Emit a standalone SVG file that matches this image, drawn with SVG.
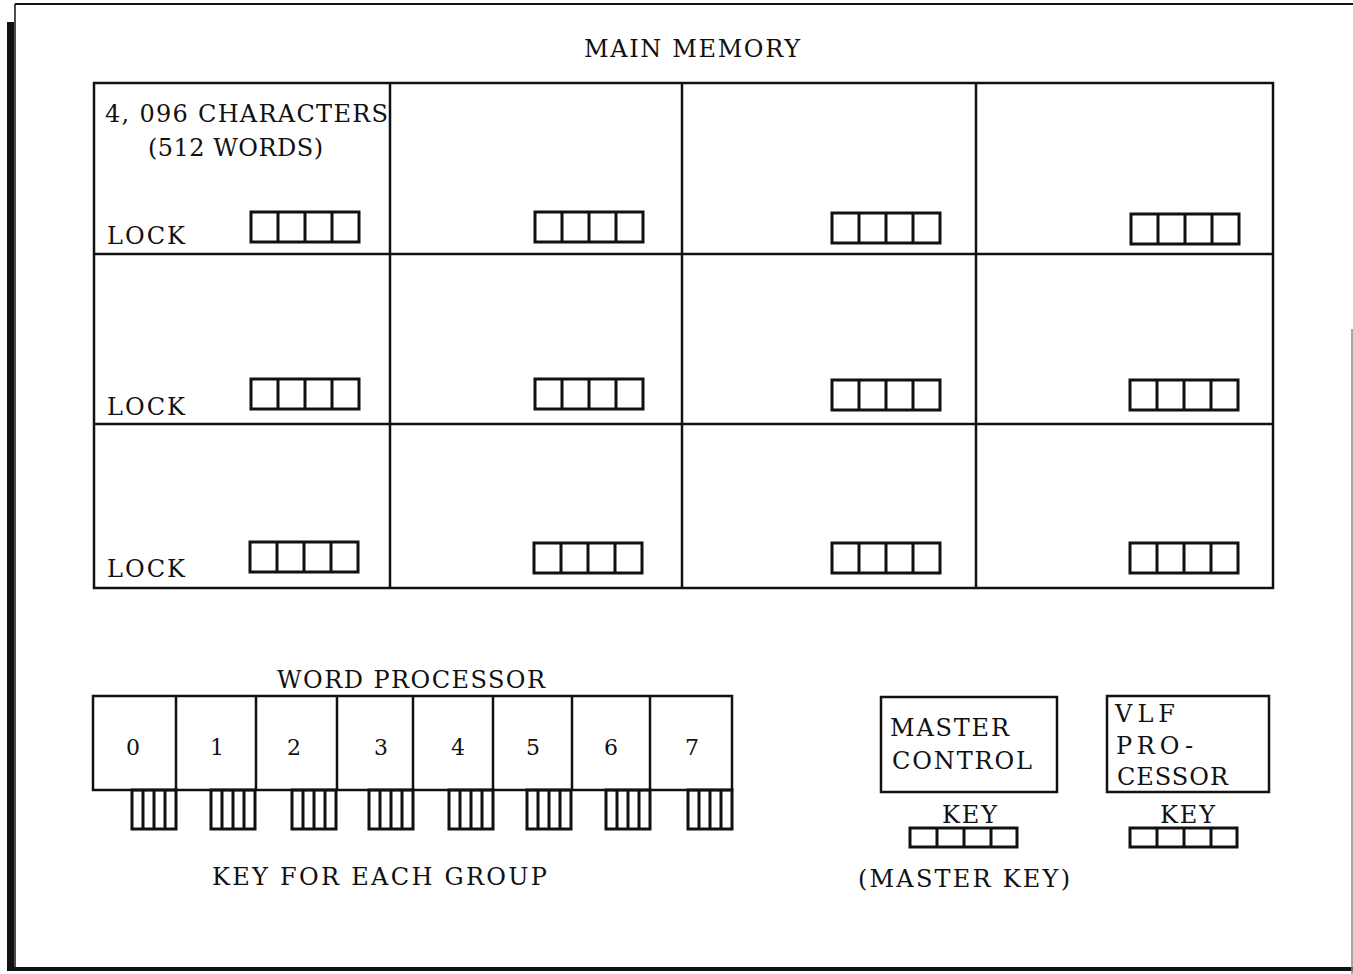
<svg xmlns="http://www.w3.org/2000/svg" xmlns:xlink="http://www.w3.org/1999/xlink" width="1353" height="974" viewBox="0 0 1353 974">
<style>
  text { font-family: "DejaVu Serif", "Liberation Serif", serif; font-size: 24px; fill: #111; }
  .num { font-size: 22px; }
  .ln { stroke: #111; stroke-width: 2.5; fill: none; }
  .lk { stroke: #111; stroke-width: 3; fill: none; }
</style>
<defs>
  <g id="lock">
    <rect class="lk" x="0" y="0" width="108" height="30"/>
    <path class="lk" d="M27 0V30M54 0V30M81 0V30"/>
  </g>
  <g id="key">
    <rect class="lk" x="0" y="0" width="44" height="39"/>
    <path class="lk" d="M11 0V39M22 0V39M33 0V39"/>
  </g>
  <g id="mkey">
    <rect class="lk" x="0" y="0" width="107" height="19"/>
    <path class="lk" d="M27 0V19M54 0V19M81 0V19"/>
  </g>
</defs>
<rect width="1353" height="974" fill="#fff"/>

<g id="frame">
  <line x1="15" y1="4" x2="1353" y2="4" stroke="#111" stroke-width="2"/>
  <line x1="15" y1="4" x2="15" y2="970" stroke="#111" stroke-width="1.5"/>
  <rect x="7" y="22" width="7" height="949" fill="#111"/>
  <rect x="7" y="967" width="1346" height="4" fill="#111"/>
  <line x1="1352" y1="329" x2="1352" y2="974" stroke="#888" stroke-width="1.5"/>
</g>

<g id="main-memory">
  <text x="584" y="57" textLength="216" lengthAdjust="spacing">MAIN MEMORY</text>
  <rect class="ln" x="94" y="83" width="1179" height="505"/>
  <path class="ln" d="M390 83V588M682 83V588M976 83V588M94 254H1273M94 424H1273"/>
</g>

<g id="cell-1-1">
  <text x="105" y="122" textLength="283" lengthAdjust="spacing">4, 096 CHARACTERS</text>
  <text x="148" y="156" textLength="175" lengthAdjust="spacing">(512 WORDS)</text>
  <text x="107" y="244" textLength="78" lengthAdjust="spacing">LOCK</text>
  <use xlink:href="#lock" x="251" y="212"/>
</g>
<g id="cell-1-2"><use xlink:href="#lock" x="535" y="212"/></g>
<g id="cell-1-3"><use xlink:href="#lock" x="832" y="213"/></g>
<g id="cell-1-4"><use xlink:href="#lock" x="1131" y="214"/></g>

<g id="cell-2-1">
  <text x="107" y="415" textLength="78" lengthAdjust="spacing">LOCK</text>
  <use xlink:href="#lock" x="251" y="379"/>
</g>
<g id="cell-2-2"><use xlink:href="#lock" x="535" y="379"/></g>
<g id="cell-2-3"><use xlink:href="#lock" x="832" y="380"/></g>
<g id="cell-2-4"><use xlink:href="#lock" x="1130" y="380"/></g>

<g id="cell-3-1">
  <text x="107" y="577" textLength="78" lengthAdjust="spacing">LOCK</text>
  <use xlink:href="#lock" x="250" y="542"/>
</g>
<g id="cell-3-2"><use xlink:href="#lock" x="534" y="543"/></g>
<g id="cell-3-3"><use xlink:href="#lock" x="832" y="543"/></g>
<g id="cell-3-4"><use xlink:href="#lock" x="1130" y="543"/></g>

<g id="word-processor">
  <text x="277" y="688" textLength="268" lengthAdjust="spacing">WORD PROCESSOR</text>
  <rect class="ln" x="93" y="696" width="639" height="94"/>
  <path class="ln" d="M176 696V790M256 696V790M337 696V790M413 696V790M493 696V790M572 696V790M650 696V790"/>
  <g text-anchor="middle">
    <text class="num" x="133" y="755">0</text>
    <text class="num" x="217" y="755">1</text>
    <text class="num" x="294" y="755">2</text>
    <text class="num" x="381" y="755">3</text>
    <text class="num" x="458" y="755">4</text>
    <text class="num" x="533" y="755">5</text>
    <text class="num" x="611" y="755">6</text>
    <text class="num" x="692" y="755">7</text>
  </g>
  <use xlink:href="#key" x="132" y="790"/>
  <use xlink:href="#key" x="211" y="790"/>
  <use xlink:href="#key" x="292" y="790"/>
  <use xlink:href="#key" x="369" y="790"/>
  <use xlink:href="#key" x="449" y="790"/>
  <use xlink:href="#key" x="527" y="790"/>
  <use xlink:href="#key" x="606" y="790"/>
  <use xlink:href="#key" x="688" y="790"/>
  <text x="212" y="885" textLength="335" lengthAdjust="spacing">KEY FOR EACH GROUP</text>
</g>

<g id="master-control">
  <rect class="ln" x="881" y="697" width="176" height="95"/>
  <text x="890" y="736" textLength="119" lengthAdjust="spacing">MASTER</text>
  <text x="892" y="769" textLength="140" lengthAdjust="spacing">CONTROL</text>
  <text x="942" y="823" textLength="55" lengthAdjust="spacing">KEY</text>
  <use xlink:href="#mkey" x="910" y="828"/>
  <text x="858" y="887" textLength="212" lengthAdjust="spacing">(MASTER KEY)</text>
</g>

<g id="vlf-processor">
  <rect class="ln" x="1107" y="696" width="162" height="96"/>
  <text x="1115" y="722" textLength="60" lengthAdjust="spacing">VLF</text>
  <text x="1116" y="754" textLength="77" lengthAdjust="spacing">PRO-</text>
  <text x="1117" y="785" textLength="111" lengthAdjust="spacing">CESSOR</text>
  <text x="1160" y="823" textLength="55" lengthAdjust="spacing">KEY</text>
  <use xlink:href="#mkey" x="1130" y="828"/>
</g>
</svg>
